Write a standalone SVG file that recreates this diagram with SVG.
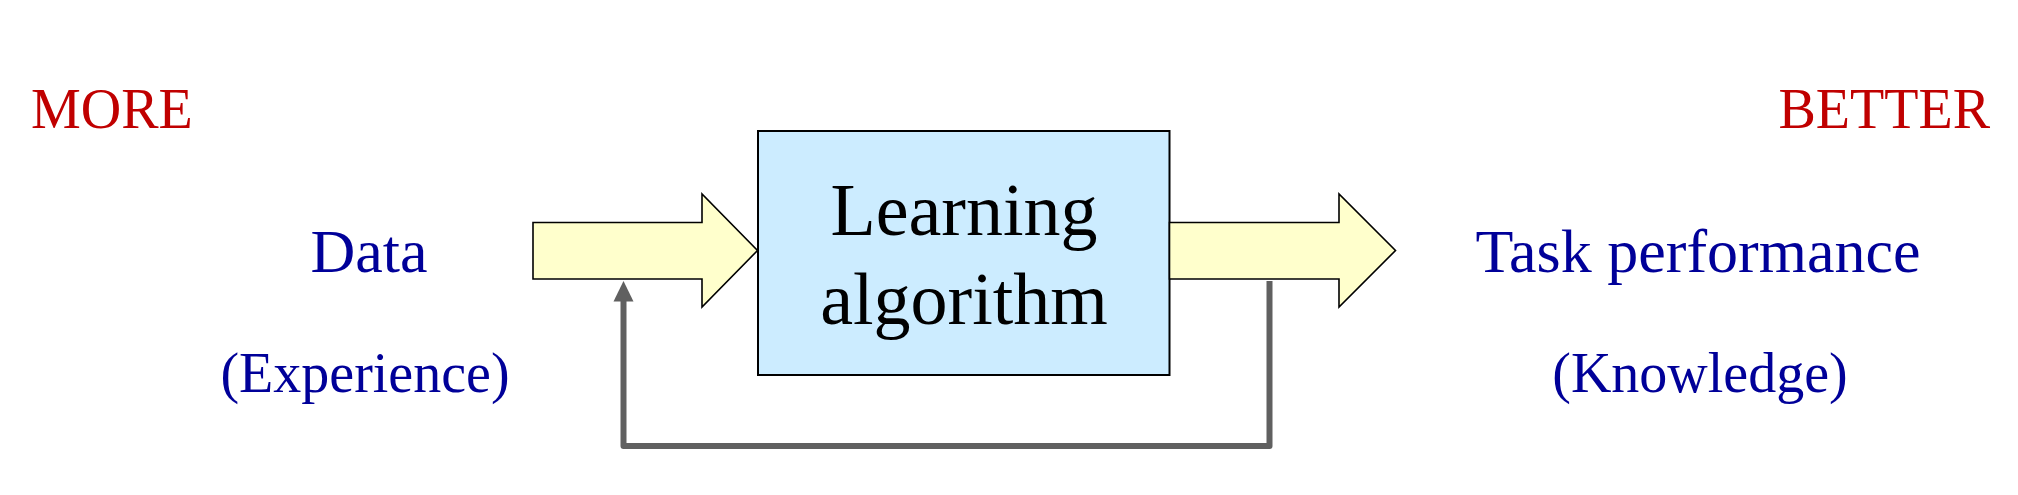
<svg xmlns="http://www.w3.org/2000/svg" width="2018" height="495" viewBox="0 0 2018 495">
<style>
text { font-family: "Liberation Serif", "Times New Roman", serif; }
.red { fill: #C00000; font-size: 56px; }
.blue { fill: #000099; }
.big { font-size: 62px; }
.small { font-size: 56px; }
.arrow { fill: #FFFFCC; stroke: #000000; stroke-width: 1.6; stroke-linejoin: miter; }
.box { fill: #CCECFF; stroke: #000000; stroke-width: 2; }
.boxtext { fill: #000000; font-size: 74px; }
.fb { fill: none; stroke: #606060; stroke-width: 6; stroke-linejoin: round; }
</style>
<rect width="2018" height="495" fill="#FFFFFF"/>
<g id="more"><text class="red" x="31" y="128">MORE</text></g>
<g id="better"><text class="red" x="1990" y="128" text-anchor="end">BETTER</text></g>
<g id="data">
<text class="blue big" x="369" y="272" text-anchor="middle">Data</text>
<text class="blue small" x="365" y="392" text-anchor="middle">(Experience)</text>
</g>
<g id="task">
<text class="blue big" x="1698" y="272" text-anchor="middle">Task performance</text>
<text class="blue small" x="1700" y="392" text-anchor="middle">(Knowledge)</text>
</g>
<g id="learning">
<rect class="box" x="758" y="131" width="411.5" height="244"/>
<text class="boxtext" x="964" y="235" text-anchor="middle">Learning</text>
<text class="boxtext" x="964" y="324" text-anchor="middle">algorithm</text>
</g>
<g id="connectors">
<polygon class="arrow" points="533,222.5 702,222.5 702,194 757.5,250.5 702,307 702,279 533,279"/>
<polygon class="arrow" points="1169.5,222.5 1339,222.5 1339,194 1395.5,250.5 1339,307 1339,279 1169.5,279"/>
<path class="fb" d="M1269.5,281 V446 H623.5 V298"/>
<polygon points="623.5,281 613.5,301.5 633.5,301.5" fill="#606060"/>
</g>
</svg>
